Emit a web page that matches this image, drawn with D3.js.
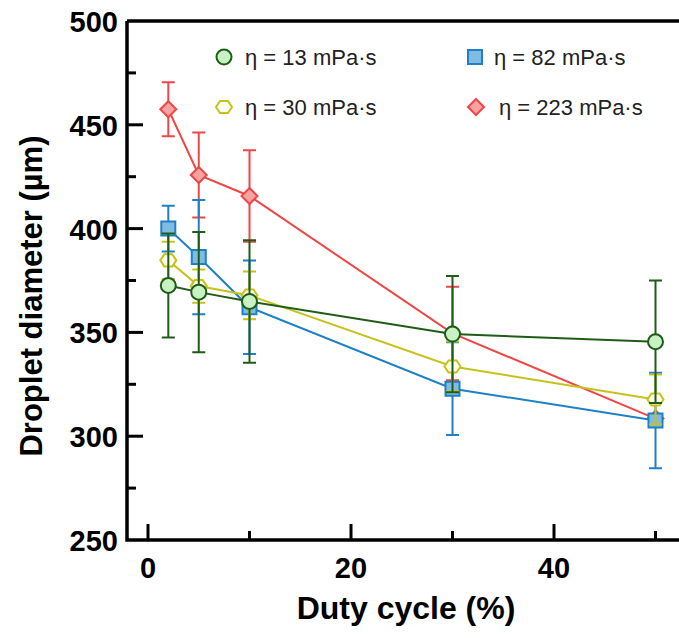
<!DOCTYPE html>
<html>
<head>
<meta charset="utf-8">
<script src="https://cdn.jsdelivr.net/npm/d3@7"></script>
<style>
  body { margin: 0; background: #fff; }
  text { font-family: "Liberation Sans", Arial, sans-serif; }
</style>
</head>
<body>
<div id="chart"></div>
<script>
var dutyCycle = [2, 5, 10, 30, 50];

var labels = ["η = 13 mPa·s", "η = 30 mPa·s", "η = 82 mPa·s", "η = 223 mPa·s"];

var d13 = [372.6, 369.4, 364.9, 349.2, 345.5];
var e13 = [25, 29, 29.5, 28, 29.5];
var d30 = [384.7, 372.3, 367.8, 333.6, 317.7];
var e30 = [9, 8, 11.5, 12, 12];
var d82 = [400, 386.3, 362.1, 322.9, 307.6];
var e82 = [11, 27.5, 22.5, 22.3, 23];
var d223 = [457.5, 425.8, 415.7, 349.5, 308.5];
var e223 = [13, 20.5, 22, 22.5, 2];

var yTicks = [250, 300, 350, 400, 450, 500];
var yMinor = [275, 325, 375, 425, 475];
var xTicks = [0, 20, 40];
var xMinor = [10, 30, 50];

var width = 679,
    height = 638;

var svg = d3.select("#chart").append("svg")
    .attr("width", width)
    .attr("height", height);

var x = d3.scaleLinear().domain([0, 50]).range([148, 655.5]);
var y = d3.scaleLinear().domain([250, 500]).range([540, 21]);

var axisX = 127;

// series: drawn red first, green last (on top)
var series = [
    { name: labels[3], vals: d223, errs: e223, stroke: "#ef4646", fill: "#f7a3a3", shape: "diamond" },
    { name: labels[2], vals: d82, errs: e82, stroke: "#1f80c6", fill: "#7fbbe2", shape: "square" },
    { name: labels[1], vals: d30, errs: e30, stroke: "#c6c21c", fill: "#fffff0", shape: "hexagon" },
    { name: labels[0], vals: d13, errs: e13, stroke: "#1f5c17", fill: "#c9f2c4", shape: "circle" }
];

function shapePath(shape) {
    if (shape == "circle") return d3.symbol().type(d3.symbolCircle).size(Math.PI * 7.5 * 7.5)();
    if (shape == "square") return "M-7,-7H7V7H-7Z";
    if (shape == "diamond") return "M0,-8L8,0L0,8L-8,0Z";
    // hexagon with points left/right
    var r = 8, pts = [];
    for (var i = 0; i < 6; i++) {
        var a = i * Math.PI / 3;
        pts.push([r * Math.cos(a), r * 0.87 * Math.sin(a)]);
    }
    return "M" + pts.join("L") + "Z";
}

// axes
var axes = svg.append("g");

axes.append("path")
    .attr("d", "M" + axisX + "," + y(500) + "V" + y(250) + "H" + width + "M" + axisX + "," + y(500) + "H" + width)
    .attr("fill", "none")
    .attr("stroke", "#000")
    .attr("stroke-width", 3.5);

axes.selectAll(".ytick")
    .data(yTicks.slice(1, -1)).enter().append("line")
    .attr("x1", axisX).attr("x2", axisX + 16)
    .attr("y1", y).attr("y2", y)
    .attr("stroke", "#000").attr("stroke-width", 3);

axes.selectAll(".yminor")
    .data(yMinor).enter().append("line")
    .attr("x1", axisX).attr("x2", axisX + 9)
    .attr("y1", y).attr("y2", y)
    .attr("stroke", "#000").attr("stroke-width", 3);

axes.selectAll(".xtick")
    .data(xTicks).enter().append("line")
    .attr("x1", x).attr("x2", x)
    .attr("y1", y(250)).attr("y2", y(250) - 16)
    .attr("stroke", "#000").attr("stroke-width", 3);

axes.selectAll(".xminor")
    .data(xMinor).enter().append("line")
    .attr("x1", x).attr("x2", x)
    .attr("y1", y(250)).attr("y2", y(250) - 9)
    .attr("stroke", "#000").attr("stroke-width", 3);

axes.selectAll(".ylabel")
    .data(yTicks).enter().append("text")
    .attr("x", axisX - 9)
    .attr("y", function (d) { return y(d) + 11; })
    .attr("text-anchor", "end")
    .attr("font-size", 29)
    .attr("font-weight", "bold")
    .text(function (d) { return d; });

axes.selectAll(".xlabel")
    .data(xTicks).enter().append("text")
    .attr("x", x)
    .attr("y", 578)
    .attr("text-anchor", "middle")
    .attr("font-size", 29)
    .attr("font-weight", "bold")
    .text(function (d) { return d; });

svg.append("text")
    .attr("x", 406)
    .attr("y", 619)
    .attr("text-anchor", "middle")
    .attr("font-size", 32)
    .attr("font-weight", "bold")
    .text("Duty cycle (%)");

svg.append("text")
    .attr("transform", "translate(42,296)rotate(-90)")
    .attr("text-anchor", "middle")
    .attr("font-size", 31)
    .attr("font-weight", "bold")
    .text("Droplet diameter (µm)");

// data
var line = d3.line()
    .x(function (d, i) { return x(dutyCycle[i]); })
    .y(function (d) { return y(d); });

var sg = svg.append("g")
    .selectAll("g")
    .data(series)
    .enter().append("g");

sg.append("path")
    .attr("d", function (s) { return line(s.vals); })
    .attr("fill", "none")
    .attr("stroke", function (s) { return s.stroke; })
    .attr("stroke-width", 2);

sg.selectAll(".err")
    .data(function (s) { return s.vals.map(function (v, i) { return { x: dutyCycle[i], v: v, e: s.errs[i], c: s.stroke }; }); })
    .enter().append("path")
    .attr("d", function (d) {
        var px = x(d.x), t = y(d.v + d.e), b = y(d.v - d.e);
        return "M" + px + "," + t + "V" + b + "M" + (px - 6.5) + "," + t + "H" + (px + 6.5) + "M" + (px - 6.5) + "," + b + "H" + (px + 6.5);
    })
    .attr("fill", "none")
    .attr("stroke", function (d) { return d.c; })
    .attr("stroke-width", 2);

sg.selectAll(".pt")
    .data(function (s) { return s.vals.map(function (v, i) { return { x: dutyCycle[i], v: v, s: s }; }); })
    .enter().append("path")
    .attr("transform", function (d) { return "translate(" + x(d.x) + "," + y(d.v) + ")"; })
    .attr("d", function (d) { return shapePath(d.s.shape); })
    .attr("fill", function (d) { return d.s.fill; })
    .attr("stroke", function (d) { return d.s.stroke; })
    .attr("stroke-width", 2);

// legend
var legendPos = [[224, 57], [224, 107], [475, 57], [476, 107]];
var legendOrder = [series[3], series[2], series[1], series[0]];

var legend = svg.append("g")
    .selectAll("g")
    .data(legendOrder)
    .enter().append("g")
    .attr("transform", function (d, i) { return "translate(" + legendPos[i][0] + "," + legendPos[i][1] + ")"; });

legend.append("path")
    .attr("d", function (d) { return shapePath(d.shape); })
    .attr("fill", function (d) { return d.fill; })
    .attr("stroke", function (d) { return d.stroke; })
    .attr("stroke-width", 2);

legend.append("text")
    .attr("x", function (d, i) { return i == 3 ? 23 : (i == 2 ? 19 : 21); })
    .attr("dy", "0.35em")
    .attr("font-size", 22)
    .attr("fill", "#222")
    .text(function (d) { return d.name; });
</script>
</body>
</html>
